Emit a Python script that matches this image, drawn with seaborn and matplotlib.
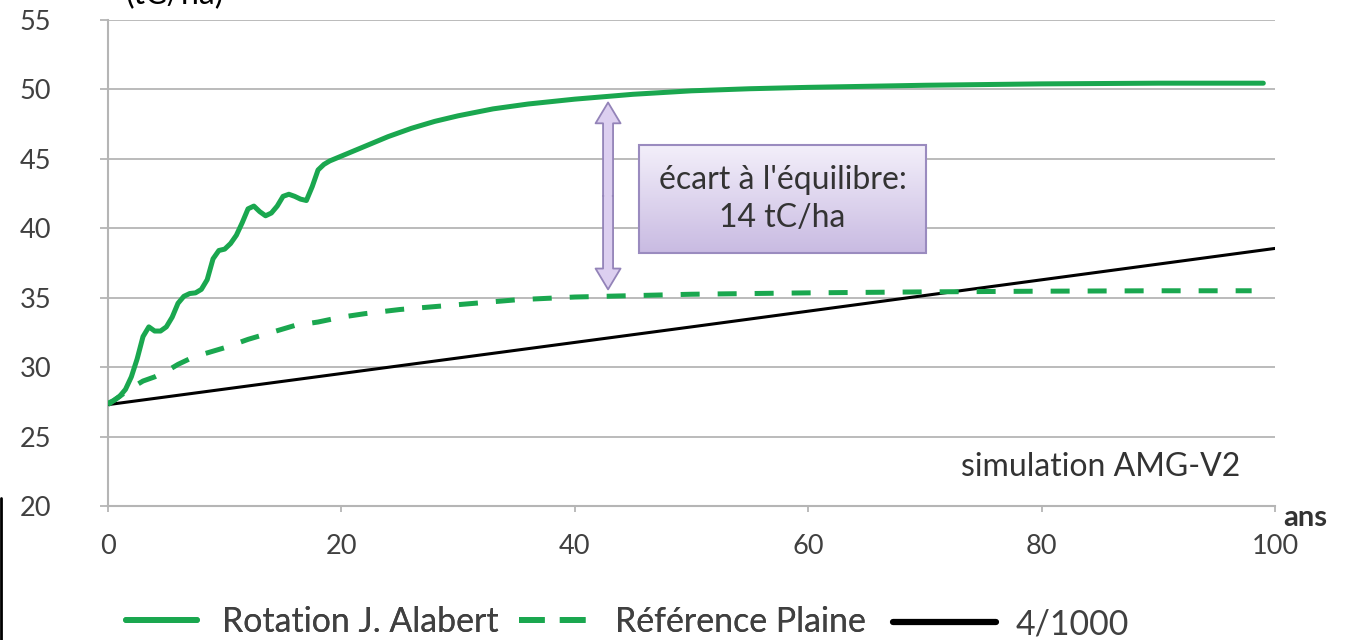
import numpy as np
import pandas as pd
import matplotlib
matplotlib.use("Agg")
import matplotlib.pyplot as plt
from matplotlib.lines import Line2D
import seaborn as sns

# values (years, tC/ha)
rot_years = [0, 0.5, 1, 1.5, 2, 2.5, 3, 3.5, 4, 4.5, 5, 5.5, 6, 6.5, 7, 7.5, 8, 8.5,
             9, 9.5, 10, 10.5, 11, 11.5, 12, 12.5, 13, 13.5, 14, 14.5, 15, 15.5,
             16, 16.5, 17, 17.5, 18, 18.5, 19, 20, 22, 24, 26, 28, 30, 33, 36, 40,
             45, 50, 55, 60, 70, 80, 90, 99]
rot_stock = [27.4, 27.6, 27.9, 28.4, 29.3, 30.6, 32.2, 32.9, 32.6, 32.6, 32.9, 33.6,
             34.6, 35.1, 35.3, 35.35, 35.6, 36.3, 37.8, 38.4, 38.5, 38.9, 39.5, 40.4,
             41.4, 41.6, 41.2, 40.9, 41.1, 41.6, 42.3, 42.45, 42.3, 42.1, 42.0, 43.0,
             44.2, 44.6, 44.85, 45.2, 45.9, 46.6, 47.2, 47.7, 48.1, 48.6, 48.95, 49.3,
             49.65, 49.9, 50.05, 50.15, 50.3, 50.4, 50.45, 50.45]

ref_years = [0, 1, 2, 3, 4, 5, 6, 7, 8, 10, 12, 14, 16, 18, 20, 22, 25, 30, 35, 40,
             45, 50, 60, 70, 80, 90, 98]
ref_stock = [27.3, 27.9, 28.5, 29.0, 29.3, 29.7, 30.2, 30.6, 30.9, 31.4, 32.0, 32.5,
             33.0, 33.25, 33.6, 33.85, 34.15, 34.5, 34.85, 35.05, 35.15, 35.25, 35.35,
             35.42, 35.47, 35.5, 35.5]

lin_years = [0, 50, 100]
lin_stock = [27.3, 32.9, 38.55]

gap_year = 42.85
gap_top = 49.06
gap_bottom = 35.6

GREEN = "#1aa74f"
GRID = "#b5b5b5"
TXT = "#404040"
LAVENDER = "#dccff0"
PURPLE = "#9383b8"

sns.set_theme(style="white")
plt.rcParams["font.family"] = ["Lato", "DejaVu Sans"]

rot = pd.DataFrame({"ans": rot_years, "stock": rot_stock})
ref = pd.DataFrame({"ans": ref_years, "stock": ref_stock})
lin = pd.DataFrame({"ans": lin_years, "stock": lin_stock})

fig = plt.figure(figsize=(13.6, 6.4), dpi=100)
ax = fig.add_axes([108 / 1360, 134 / 640, 1167 / 1360, 486 / 640])

sns.lineplot(data=lin, x="ans", y="stock", ax=ax, color="black", lw=2.2,
             estimator=None, zorder=3)
sns.lineplot(data=ref, x="ans", y="stock", ax=ax, color=GREEN, lw=3.6,
             estimator=None, zorder=4)
ax.lines[-1].set_dashes((3.8, 3.6))
ax.lines[-1].set_dash_capstyle("butt")
sns.lineplot(data=rot, x="ans", y="stock", ax=ax, color=GREEN, lw=3.6,
             estimator=None, zorder=5)

ax.set_xlim(0, 100)
ax.set_ylim(20, 55)
ax.set_xticks(range(0, 101, 20))
ax.set_yticks(range(20, 56, 5))
ax.set_xlabel("")
ax.set_ylabel("")
ax.grid(axis="y", color=GRID, lw=1.3)
ax.grid(axis="x", visible=False)
for side in ["top", "right"]:
    ax.spines[side].set_visible(False)
for side in ["left", "bottom"]:
    ax.spines[side].set_color(GRID)
    ax.spines[side].set_linewidth(1.5)
ax.tick_params(axis="y", length=6, width=1.3, color=GRID, pad=35,
               labelsize=19.5, labelcolor=TXT, left=True)
ax.tick_params(axis="x", length=4.5, width=1.3, color=GRID, pad=16,
               labelsize=19.5, labelcolor=TXT, bottom=True)

# double arrow between the two plateaus
gap_mid = (gap_top + gap_bottom) / 2
for end in [gap_top, gap_bottom]:
    ax.annotate("", xy=(gap_year, end), xytext=(gap_year, gap_mid),
                arrowprops=dict(arrowstyle="simple,head_length=0.75,head_width=0.9,tail_width=0.36",
                                mutation_scale=20, fc=LAVENDER, ec=PURPLE, lw=1.3,
                                shrinkA=0, shrinkB=0), zorder=6)
# hide the seam where the two halves meet
ax.plot([gap_year, gap_year], [gap_mid - 1, gap_mid + 1], color=LAVENDER, lw=5.6,
        solid_capstyle="butt", zorder=6.5)

note = ax.text(57.8, 42.1, "écart à l'équilibre:\n14 tC/ha", ha="center", va="center",
               fontsize=23, color="#333333", linespacing=1.35, zorder=8,
               bbox=dict(boxstyle="square,pad=0.62", fc=LAVENDER, ec="#9a8bbf", lw=1.5))

ax.text(97, 22.8, "simulation AMG-V2", ha="right", va="center", fontsize=23, color="#333333")
ax.text(102.6, 19.1, "ans", ha="center", va="center", fontsize=21, fontweight="bold",
        color="#333333", clip_on=False)

fig.text(125 / 1360, 1 - 4 / 640, "(tC/ha)", ha="left", va="baseline", fontsize=23,
         color="black")

h1 = Line2D([], [], color=GREEN, lw=4.2)
h2 = Line2D([], [], color=GREEN, lw=4.2, dashes=(4.4, 2.6))
h3 = Line2D([], [], color="black", lw=4.5)
leg1 = fig.legend([h1, h2], ["Rotation J. Alabert", "Référence Plaine"], ncol=2,
                  loc="center left", bbox_to_anchor=(126 / 1360, 1 - 622 / 640),
                  frameon=False, fontsize=24.4, handlelength=2.1, handletextpad=0.72,
                  columnspacing=0.62, borderpad=0, borderaxespad=0, labelcolor=TXT)
leg2 = fig.legend([h3], ["4/1000"], loc="center left",
                  bbox_to_anchor=(893 / 1360, 1 - 624 / 640), frameon=False,
                  fontsize=24.4, handlelength=3.05, handletextpad=0.58, borderpad=0,
                  borderaxespad=0, labelcolor=TXT)
fig.add_artist(leg1)

fig.add_artist(Line2D([0.001, 0.001], [0, 0.222], color="black", lw=2))

# soft vertical gradient inside the note box
fig.canvas.draw()
box = note.get_bbox_patch()
bb = box.get_window_extent().transformed(ax.transData.inverted())
shade = np.linspace(0, 1, 64).reshape(-1, 1)
cmap = matplotlib.colors.LinearSegmentedColormap.from_list("lav", ["#f3effa", "#c9bbe2"])
img = ax.imshow(shade, cmap=cmap, aspect="auto", interpolation="bilinear", zorder=7.5,
                extent=(bb.x0, bb.x1, bb.y0, bb.y1), origin="upper")
img.set_clip_path(box)
box.set_facecolor("none")
ax.set_xlim(0, 100)
ax.set_ylim(20, 55)

fig.savefig("out.png", dpi=100)
